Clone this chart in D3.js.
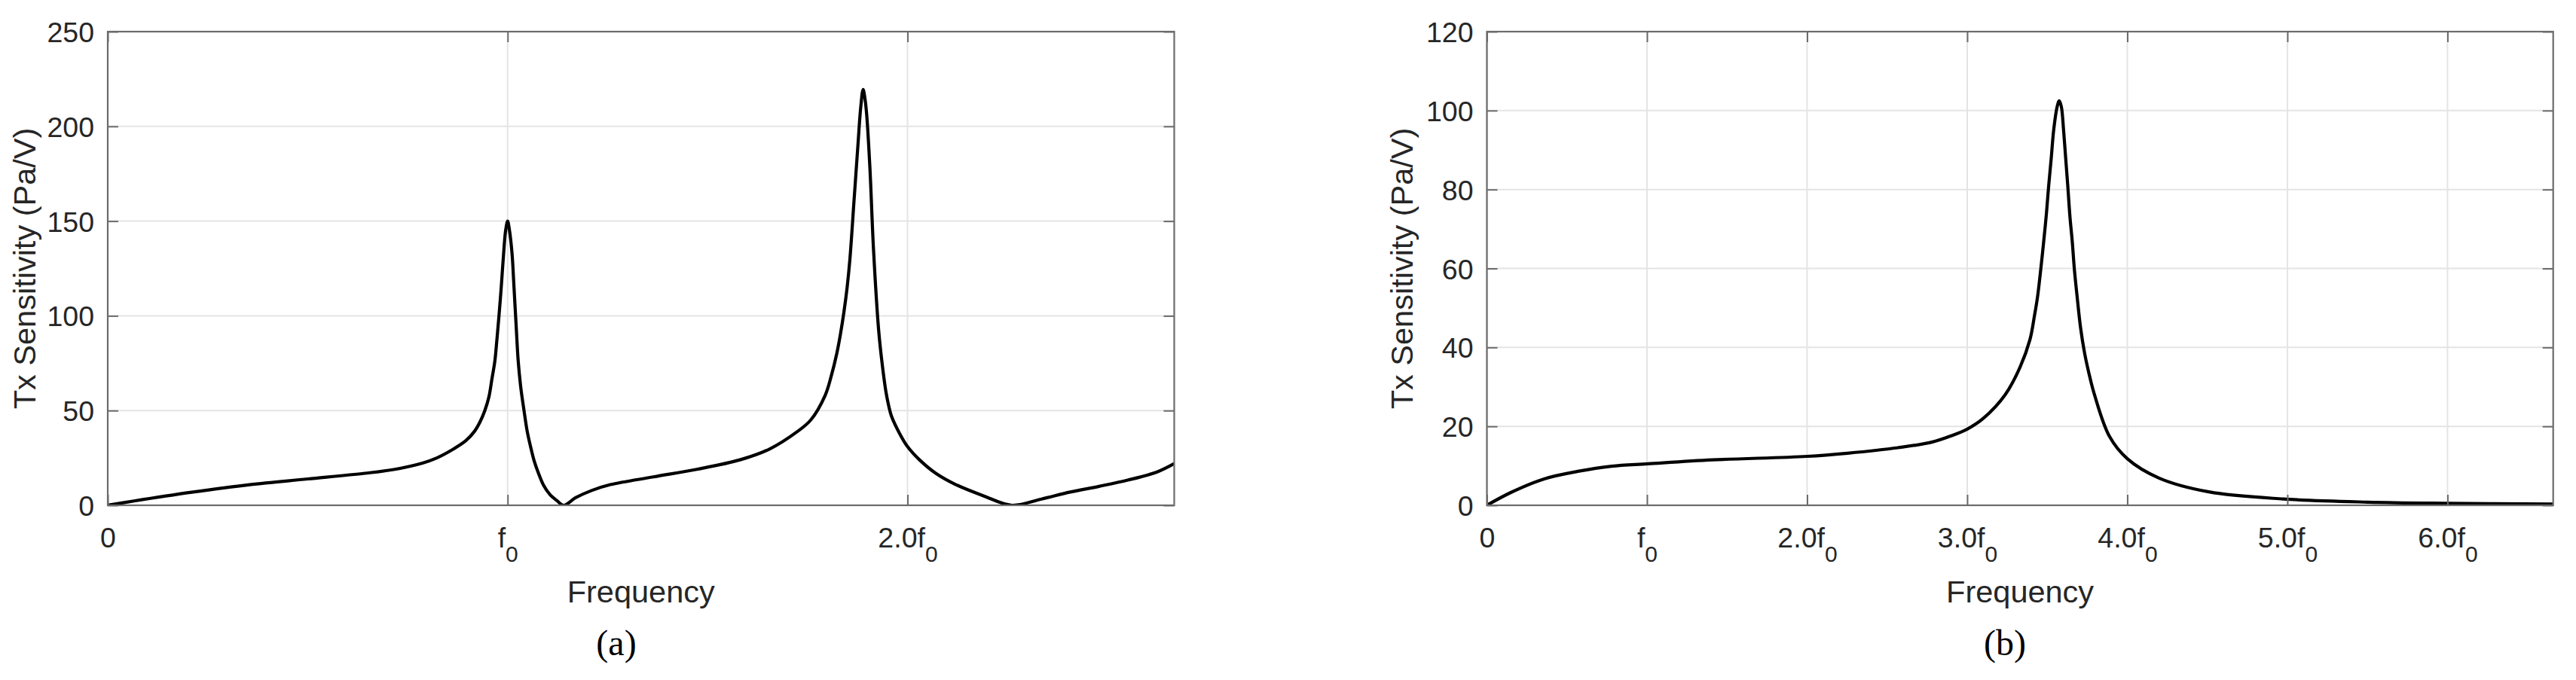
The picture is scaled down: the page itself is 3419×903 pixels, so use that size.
<!DOCTYPE html>
<html>
<head>
<meta charset="utf-8">
<script src="https://cdn.jsdelivr.net/npm/d3@7"></script>
<style>
  html, body { margin: 0; padding: 0; background: #ffffff; }
  svg { display: block; }
</style>
</head>
<body>
<div id="chart"></div>
<script>
// ---------------- DATA ----------------
// Panel (a): frequency in units of f0, Tx sensitivity in Pa/V
const freqA = [0, 0.066, 0.21, 0.355, 0.5, 0.643, 0.715, 0.787, 0.823, 0.859, 0.895, 0.917, 0.931, 0.943, 0.953, 0.961, 0.968, 0.973, 0.978, 0.984, 0.989, 0.995, 1.0,
  1.004, 1.011, 1.0157, 1.021, 1.0265, 1.033, 1.041, 1.049, 1.059, 1.067, 1.077, 1.09, 1.106, 1.123, 1.140,
  1.17, 1.21, 1.257, 1.365, 1.473, 1.581, 1.654, 1.725, 1.758, 1.794, 1.809, 1.823, 1.832, 1.841, 1.849, 1.856, 1.866, 1.871, 1.876, 1.883, 1.889,
  1.894, 1.898, 1.906, 1.915, 1.928, 1.937, 1.946, 1.953, 1.96, 1.98, 2.0, 2.03, 2.07, 2.12, 2.19, 2.261,
  2.335, 2.407, 2.479, 2.551, 2.623, 2.667];
const sensA = [0, 2.3, 6.9, 10.9, 13.9, 16.9, 18.9, 22.3, 25, 29, 34, 39, 44, 50, 57, 67, 76, 87, 99, 115, 130, 145, 150,
  146, 133, 116, 96, 76, 62, 50, 39, 29.5, 23, 17, 10.5, 5.6, 2.5, 0,
  4.0, 7.8, 10.9, 15, 19, 24, 29.6, 39, 45, 58, 68, 80, 90, 102, 115, 130, 160, 175, 190, 210, 219.5,
  214, 206, 178, 135, 92, 74, 60, 52.5, 47, 38, 31, 24, 17, 11, 5, 0,
  3.3, 7, 10, 13.3, 17.5, 22];
const xDomainA = [0, 2.667];
const yDomainA = [0, 250];
const yTicksA = [0, 50, 100, 150, 200, 250];
const xTicksA = [0, 1, 2];
const xTickMainA = ["0", "f", "2.0f"];
const xTickSubA = ["", "0", "0"];

// Panel (b)
const freqB = [0, 0.147, 0.358, 0.568, 0.779, 1.006, 1.41, 2.0, 2.253, 2.568, 2.779, 2.9, 3.0, 3.1, 3.237, 3.330, 3.392, 3.42, 3.439, 3.46, 3.478, 3.495, 3.509, 3.525, 3.540, 3.562, 3.575,
  3.588, 3.602, 3.615, 3.628, 3.642, 3.656, 3.67, 3.687, 3.708, 3.733, 3.76, 3.795, 3.888, 4.0, 4.198, 4.509, 4.974, 5.5, 6.0, 6.66];
const sensB = [0, 3.2, 6.7, 8.6, 9.9, 10.5, 11.5, 12.4, 13.2, 14.6, 16.0, 17.6, 19.3, 22.0, 28, 35, 42, 48, 52.7, 60, 66.9, 74, 81, 88, 95, 101, 102.5,
  101, 95, 88, 81, 73, 66.9, 59.5, 52.7, 45, 38.6, 33.5, 28, 17.5, 11.8, 6.9, 3.4, 1.6, 0.8, 0.5, 0.3];
const xDomainB = [0, 6.66];
const yDomainB = [0, 120];
const yTicksB = [0, 20, 40, 60, 80, 100, 120];
const xTicksB = [0, 1, 2, 3, 4, 5, 6];
const xTickMainB = ["0", "f", "2.0f", "3.0f", "4.0f", "5.0f", "6.0f"];
const xTickSubB = ["", "0", "0", "0", "0", "0", "0"];

const yLabel = "Tx Sensitivity (Pa/V)";
const xLabel = "Frequency";
const panelTags = ["(a)", "(b)"];

// ---------------- LAYOUT ----------------
const W = 3419, H = 903;
const FONT = "'Liberation Sans', Arial, Helvetica, sans-serif";
const TEXT = "#262626";
const AXIS = "#6b6b6b";
const GRID = "#e4e4e4";

const panels = [
  { left: 143, right: 1558.5, top: 42, bottom: 671, freq: freqA, sens: sensA, xd: xDomainA, yd: yDomainA,
    yt: yTicksA, xt: xTicksA, xm: xTickMainA, xs: xTickSubA, ylabX: 47, tag: panelTags[0], tagX: 818 },
  { left: 1973.5, right: 3388.7, top: 42, bottom: 671, freq: freqB, sens: sensB, xd: xDomainB, yd: yDomainB,
    yt: yTicksB, xt: xTicksB, xm: xTickMainB, xs: xTickSubB, ylabX: 1875, tag: panelTags[1], tagX: 2661 }
];

const svg = d3.select("#chart").append("svg")
  .attr("width", W).attr("height", H)
  .attr("viewBox", `0 0 ${W} ${H}`);
svg.append("rect").attr("width", W).attr("height", H).attr("fill", "#fff");

panels.forEach((p, pi) => {
  const x = d3.scaleLinear().domain(p.xd).range([p.left, p.right]);
  const y = d3.scaleLinear().domain(p.yd).range([p.bottom, p.top]);
  const g = svg.append("g");

  // grid
  g.append("g").selectAll("line").data(p.xt).join("line")
    .attr("x1", d => x(d)).attr("x2", d => x(d))
    .attr("y1", p.top).attr("y2", p.bottom)
    .attr("stroke", GRID).attr("stroke-width", 2);
  g.append("g").selectAll("line").data(p.yt).join("line")
    .attr("x1", p.left).attr("x2", p.right)
    .attr("y1", d => y(d)).attr("y2", d => y(d))
    .attr("stroke", GRID).attr("stroke-width", 2);

  // curve
  const clipId = "clip" + pi;
  svg.append("defs").append("clipPath").attr("id", clipId)
    .append("rect").attr("x", p.left).attr("y", p.top - 4)
    .attr("width", p.right - p.left).attr("height", p.bottom - p.top + 4);
  const pts = p.freq.map((f, i) => [f, p.sens[i]]);
  const line = d3.line().x(d => x(d[0])).y(d => y(d[1])).curve(d3.curveCatmullRom.alpha(0.5));
  g.append("path").datum(pts)
    .attr("clip-path", `url(#${clipId})`)
    .attr("d", line)
    .attr("fill", "none").attr("stroke", "#000").attr("stroke-width", 4.2)
    .attr("stroke-linejoin", "round");

  // axes (ticks inward)
  const styleAxis = sel => {
    sel.select(".domain").remove();
    sel.selectAll(".tick line").attr("stroke", AXIS).attr("stroke-width", 2);
  };
  const bottom = g.append("g").attr("transform", `translate(0,${p.bottom})`)
    .call(d3.axisBottom(x).tickValues(p.xt).tickSizeInner(-14).tickSizeOuter(0).tickFormat(() => ""))
    .call(styleAxis);
  bottom.selectAll(".tick text").each(function(d, i) {
    const t = d3.select(this)
      .attr("y", 56).attr("dy", null)
      .attr("fill", TEXT).attr("font-family", FONT).attr("font-size", 37.5)
      .attr("text-anchor", "middle").text(null);
    t.append("tspan").text(p.xm[i]);
    if (p.xs[i]) t.append("tspan").attr("dy", 19).attr("font-size", 30).text(p.xs[i]);
  });
  g.append("g").attr("transform", `translate(0,${p.top})`)
    .call(d3.axisTop(x).tickValues(p.xt).tickSizeInner(-14).tickSizeOuter(0).tickFormat(() => ""))
    .call(styleAxis);
  const left = g.append("g").attr("transform", `translate(${p.left},0)`)
    .call(d3.axisLeft(y).tickValues(p.yt).tickSizeInner(-14).tickSizeOuter(0).tickPadding(18).tickFormat(d3.format("d")))
    .call(styleAxis);
  left.selectAll(".tick text").attr("fill", TEXT).attr("font-family", FONT).attr("font-size", 37.5).attr("dy", "0.36em");
  g.append("g").attr("transform", `translate(${p.right},0)`)
    .call(d3.axisRight(y).tickValues(p.yt).tickSizeInner(-14).tickSizeOuter(0).tickFormat(() => ""))
    .call(styleAxis);

  // box
  g.append("rect").attr("x", p.left).attr("y", p.top)
    .attr("width", p.right - p.left).attr("height", p.bottom - p.top)
    .attr("fill", "none").attr("stroke", AXIS).attr("stroke-width", 2.2);

  // labels
  g.append("text").attr("x", (p.left + p.right) / 2).attr("y", 800)
    .attr("text-anchor", "middle").attr("fill", TEXT)
    .attr("font-family", FONT).attr("font-size", 41.5).text(xLabel);
  g.append("text").attr("transform", `translate(${p.ylabX},${(p.top + p.bottom) / 2}) rotate(-90)`)
    .attr("text-anchor", "middle").attr("fill", TEXT)
    .attr("font-family", FONT).attr("font-size", 41.5).text(yLabel);
  g.append("text").attr("x", p.tagX).attr("y", 870)
    .attr("text-anchor", "middle").attr("fill", "#000")
    .attr("font-family", "'Liberation Serif', 'Times New Roman', serif").attr("font-size", 48).text(p.tag);
});
</script>
</body>
</html>
